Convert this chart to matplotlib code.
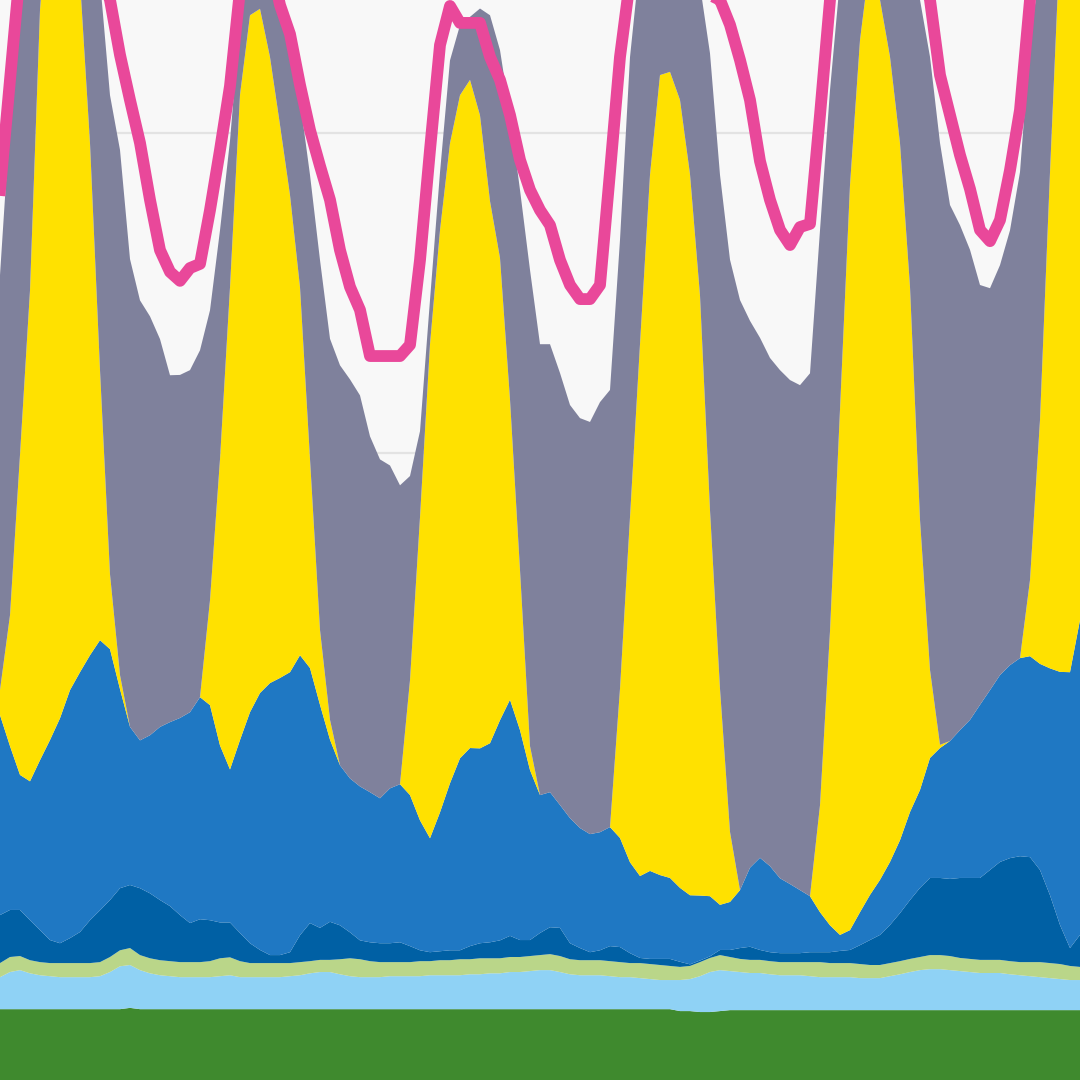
import matplotlib
matplotlib.use("Agg")
import matplotlib.pyplot as plt
import numpy as np

# Zeitschritte (Ausschnitt, ca. 5,5 Tage)
step = np.arange(109)

# Erzeugung in GW, von unten nach oben gestapelt
biomasse = [2.62] * 10 + [2.62, 2.62, 2.62, 2.66, 2.62, 2.62, 2.62, 2.62, 2.62, 2.62] + [2.62] * 40 + \
    [2.62, 2.62, 2.62, 2.62, 2.62, 2.62, 2.62, 2.62, 2.56, 2.56] + \
    [2.53, 2.53, 2.56, 2.59, 2.59, 2.59, 2.59, 2.59, 2.59, 2.59] + [2.59] * 29

wasser = [1.0, 1.16, 1.22, 1.12, 1.06, 1.03, 1.0, 1.0, 1.0, 1.0,
          1.03, 1.16, 1.34, 1.34, 1.22, 1.12, 1.06, 1.03, 1.0, 1.0,
          1.0, 1.0, 1.03, 1.06, 1.0, 1.0, 1.0, 1.0, 1.0, 1.03,
          1.06, 1.12, 1.16, 1.16, 1.09, 1.03, 1.0, 1.0, 1.0, 1.03,
          1.03, 1.03, 1.03, 1.06, 1.06, 1.06, 1.06, 1.09, 1.09, 1.12,
          1.12, 1.16, 1.16, 1.19, 1.22, 1.22, 1.16, 1.09, 1.06, 1.06,
          1.06, 1.03, 1.0, 1.0, 0.97, 0.94, 0.91, 0.91, 0.97, 1.0,
          1.12, 1.25, 1.28, 1.22, 1.19, 1.16, 1.16, 1.12, 1.09, 1.09,
          1.09, 1.06, 1.03, 1.03, 1.03, 1.03, 1.0, 1.0, 1.0, 1.06,
          1.12, 1.19, 1.25, 1.28, 1.28, 1.25, 1.22, 1.19, 1.16, 1.16,
          1.16, 1.12, 1.09, 1.06, 1.03, 1.0, 0.97, 0.94, 0.94]

sonstige = [.44, .47, .44, .41, .41, .41, .44, .44, .44, .44,
            .44, .47, .5, .53, .47, .47, .47, .47, .47, .47,
            .47, .5, .56, .56, .5, .44, .44, .44, .44, .41,
            .41, .38, .38, .38, .47, .56, .56, .5, .47, .44,
            .44, .44, .47, .44, .47, .47, .5, .47, .5, .47,
            .47, .47, .47, .47, .47, .5, .5, .47, .47, .47,
            .47, .47, .47, .44, .47, .47, .47, .44, .41, .41,
            .44, .44, .47, .44, .41, .41, .41, .41, .41, .41,
            .41, .44, .47, .44, .44, .44, .44, .41, .41, .41,
            .41, .41, .41, .44, .44, .44, .41, .41, .41, .41,
            .41, .41, .41, .44, .47, .47, .47, .44, .41]

wind_offshore = [1.5, 1.47, 1.44, 1.25, 1.0, 0.72, 0.62, 0.78, 0.97, 1.34,
                 1.62, 1.78, 1.94, 1.97, 2.09, 2.03, 1.88, 1.72, 1.47, 1.22,
                 1.34, 1.28, 1.12, 1.09, 0.88, 0.62, 0.41, 0.25, 0.25, 0.34,
                 0.84, 1.19, 1.0, 1.19, 1.06, 0.81, 0.59, 0.59, 0.59, 0.59,
                 0.62, 0.5, 0.34, 0.28, 0.28, 0.31, 0.28, 0.41, 0.47, 0.5,
                 0.56, 0.66, 0.53, 0.5, 0.69, 0.84, 0.88, 0.5, 0.38, 0.25,
                 0.31, 0.47, 0.47, 0.31, 0.16, 0.16, 0.19, 0.22, 0.16, 0.05,
                 0.05, 0.05, 0.16, 0.22, 0.34, 0.41, 0.31, 0.28, 0.28, 0.28,
                 0.28, 0.31, 0.31, 0.34, 0.38, 0.41, 0.59, 0.78, 0.94, 1.19,
                 1.5, 1.84, 2.16, 2.41, 2.41, 2.41, 2.5, 2.53, 2.56, 2.81,
                 3.06, 3.22, 3.31, 3.28, 2.88, 2.12, 1.22, 0.56, 1.0]

wind_onshore = [6.25, 5.12, 4.22, 4.34, 5.31, 6.25, 7.03, 7.75, 8.12, 8.28,
                8.44, 7.84, 6.22, 4.94, 4.62, 4.94, 5.41, 5.75, 6.16, 6.59,
                6.94, 6.72, 5.53, 4.78, 6.03, 7.22, 8.03, 8.5, 8.66, 8.75,
                8.75, 7.97, 6.97, 5.69, 5.0, 4.81, 4.81, 4.69, 4.53, 4.84,
                4.94, 4.72, 4.06, 3.56, 4.34, 5.22, 6.0, 6.19, 6.09, 6.22,
                6.88, 7.38, 6.56, 5.31, 4.31, 4.22, 3.84, 3.91, 3.75, 3.69,
                3.69, 3.72, 3.41, 2.84, 2.56, 2.75, 2.62, 2.53, 2.31, 2.16,
                2.03, 1.88, 1.41, 1.5, 1.81, 2.47, 2.88, 2.69, 2.34, 2.16,
                1.97, 1.75, 1.25, 0.84, 0.5, 0.62, 1.03, 1.41, 1.72, 1.97,
                2.28, 2.75, 3.06, 3.75, 4.06, 4.31, 4.62, 4.94, 5.41, 5.62,
                5.84, 6.03, 6.19, 6.28, 6.44, 7.09, 7.91, 8.62, 9.84]

solar = [0.78, 4.09, 10.0, 15.34, 23.44, 26.88, 27.75, 25.31, 21.62, 16.0,
         8.44, 2.34, 0.44, 0, 0, 0, 0, 0, 0, 0,
         0, 3.28, 8.94, 15.06, 20.16, 21.78, 21.38, 19.56, 17.28, 14.91,
         11.5, 6.53, 2.34, 0.62, 0, 0, 0, 0, 0, 0,
         0, 3.59, 9.47, 15.44, 18.19, 20.0, 20.72, 20.88, 19.78, 16.94,
         14.44, 9.38, 5.0, 0.75, 0, 0, 0, 0, 0, 0,
         0, 0, 4.66, 10.78, 16.62, 21.75, 25.0, 25.19, 24.62, 22.53,
         18.75, 12.06, 6.75, 2.19, 0, 0, 0, 0, 0, 0,
         0, 0, 3.34, 9.19, 16.41, 23.28, 27.25, 29.22, 27.5, 25.16,
         21.78, 16.41, 8.44, 2.75, 0.1, 0, 0, 0, 0, 0,
         0, 0, 0, 2.38, 7.62, 15.5, 22.88, 25.69, 25.62]

gas = [12.97, 15.47, 14.84, 12.19, 5.94, 4.06, 3.44, 4.06, 5.0, 7.59,
       12.19, 14.97, 16.41, 14.62, 13.75, 13.09, 12.12, 10.84, 10.72, 10.69,
       10.84, 9.06, 7.16, 4.59, 2.34, 1.41, 1.53, 2.72, 3.91, 4.31,
       5.84, 8.88, 11.56, 11.91, 12.5, 12.47, 12.22, 11.12, 10.59, 10.09,
       9.34, 6.38, 2.69, 1.38, 1.81, 2.59, 2.19, 1.97, 3.34, 5.81,
       6.5, 8.91, 11.88, 14.88, 14.09, 14.0, 13.5, 12.91, 12.81, 12.88,
       13.44, 13.66, 14.03, 14.38, 12.0, 8.59, 6.41, 6.31, 6.25, 7.03,
       9.69, 14.28, 16.06, 17.88, 18.44, 17.09, 16.25, 15.88, 15.88, 15.75,
       15.78, 16.34, 17.97, 16.91, 13.44, 8.91, 5.94, 4.06, 4.69, 5.22,
       6.34, 9.59, 16.25, 19.16, 18.81, 16.75, 15.78, 14.69, 13.12, 12.56,
       12.81, 13.59, 15.19, 16.88, 14.06, 7.88, 2.19, 0.94, 0.62]

# Last (Linie)
last = [28.22, 31.66, 35.09, 37.91, 39.78, 41.03, 41.34, 40.41, 38.84, 36.97,
        35.09, 34.16, 32.44, 31.03, 29.69, 27.91, 26.34, 25.66, 25.38, 25.78,
        25.91, 27.59, 29.47, 31.47, 34.47, 36.03, 36.66, 35.41, 34.0, 33.09,
        31.5, 30.09, 28.97, 27.91, 26.34, 25.19, 24.47, 23.03, 23.03, 23.03,
        23.03, 23.38, 26.03, 29.47, 32.75, 33.97, 33.44, 33.44, 33.44, 32.38,
        31.66, 30.56, 29.16, 28.22, 27.59, 27.12, 26.03, 25.25, 24.81, 24.81,
        25.25, 28.78, 32.38, 34.78, 36.66, 37.91, 38.53, 38.22, 37.28, 36.03,
        35.09, 34.31, 34.16, 33.38, 32.28, 31.03, 29.12, 27.91, 26.97, 26.5,
        27.06, 27.16, 30.56, 34.16, 36.66, 38.53, 39.78, 40.41, 40.09, 39.16,
        37.91, 36.66, 35.41, 34.16, 31.81, 30.56, 29.31, 28.25, 26.97, 26.62,
        27.28, 28.84, 30.72, 34.16, 36.03, 37.91, 39.16, 40.09, 40.72]

farben = ['#3f8a2e', '#8fd2f5', '#bad689', '#0060a4', '#1f78c3', '#ffe100', '#7f819c']

fig = plt.figure(figsize=(10.8, 10.8), dpi=100)
ax = fig.add_axes([0, 0, 1, 1])
ax.set_facecolor('#f8f8f8')

ax.stackplot(step, biomasse, wasser, sonstige, wind_offshore, wind_onshore, solar, gas,
             colors=farben, linewidth=0, zorder=2)
ax.plot(step, last, color='#e9489a', lw=8.5, zorder=3)

ax.set_xlim(0, 108)
ax.set_ylim(20 - 627 / 32, 30 + 133 / 32)
ax.set_yticks([20, 30])
ax.grid(axis='y', color='#e3e3e3', lw=1.6, zorder=1)
ax.set_axisbelow(True)
ax.tick_params(left=False, bottom=False, labelleft=False, labelbottom=False)
for s in ax.spines.values():
    s.set_visible(False)

fig.savefig('out.png', dpi=100)
